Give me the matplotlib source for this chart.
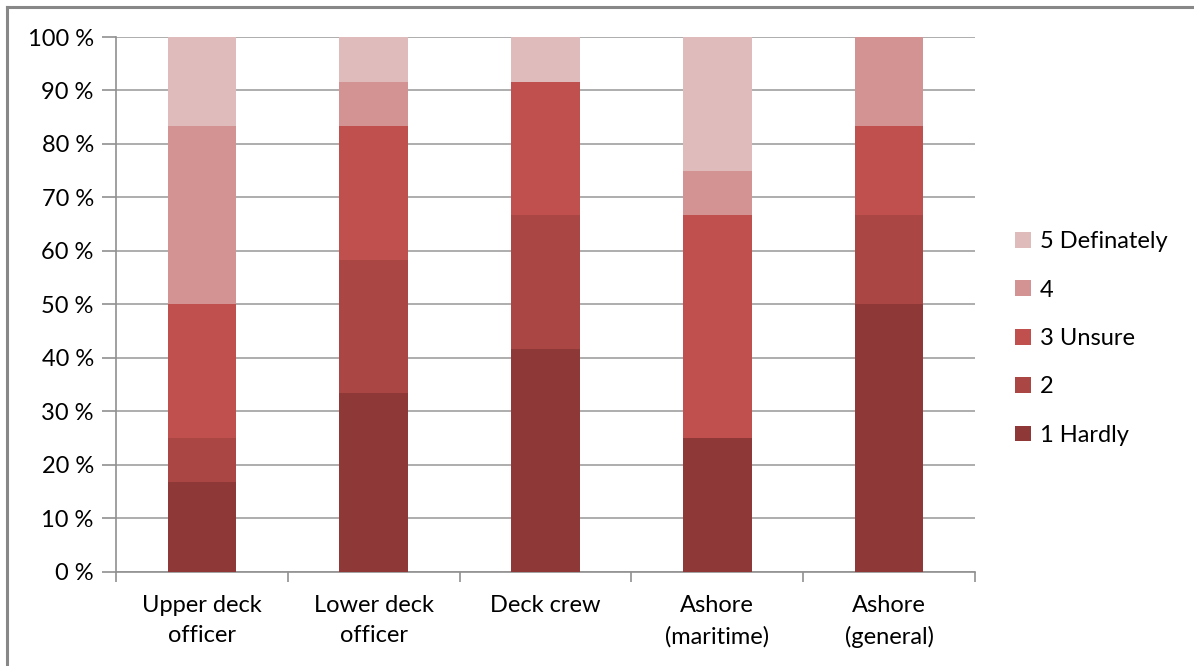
import matplotlib
matplotlib.use("Agg")
import matplotlib.pyplot as plt
from matplotlib.lines import Line2D
from matplotlib.ticker import FixedLocator

categories = ["Upper deck\nofficer", "Lower deck\nofficer", "Deck crew", "Ashore\n(maritime)", "Ashore\n(general)"]
series_names = ["1 Hardly", "2", "3 Unsure", "4", "5 Definately"]
s1 = [16.67, 33.33, 41.67, 25.0, 50.0]
s2 = [8.33, 25.0, 25.0, 0.0, 16.67]
s3 = [25.0, 25.0, 25.0, 41.67, 16.67]
s4 = [33.33, 8.33, 0.0, 8.33, 16.67]
s5 = [16.67, 8.33, 8.33, 25.0, 0.0]
series = [s1, s2, s3, s4, s5]
colors = ["#8E3937", "#AA4643", "#C0504D", "#D39392", "#E0BBBB"]
ytick_vals = list(range(0, 101, 10))
ytick_labels = [f"{v} %" for v in ytick_vals]

plt.rcParams['font.family'] = ['Lato', 'DejaVu Sans']
FS = 17

W, H = 1194, 666
fig = plt.figure(figsize=(W / 100, H / 100), dpi=100)
ax = fig.add_axes([116 / W, 1 - 571.5 / H, (975 - 116) / W, (571.5 - 37) / H])

x = list(range(len(categories)))
bottom = [0.0] * len(categories)
handles = []
for vals, name, c in zip(series, series_names, colors):
    b = ax.bar(x, vals, width=0.4, bottom=bottom, color=c, label=name, zorder=3,
               edgecolor="none")
    handles.append(b)
    bottom = [bb + v for bb, v in zip(bottom, vals)]

ax.set_xlim(-0.5, len(categories) - 0.5)
ax.set_ylim(0, 100)
ax.set_yticks(ytick_vals)
ax.set_yticklabels(ytick_labels, fontsize=FS)
ax.yaxis.grid(True, color="#A0A0A0", linewidth=1.2, zorder=0)
ax.set_xticks(x)
ax.set_xticklabels(categories, fontsize=FS, linespacing=1.55)
ax.xaxis.set_minor_locator(FixedLocator([i - 0.5 for i in range(len(categories) + 1)]))
ax.tick_params(axis="x", which="major", length=0, pad=17)
ax.tick_params(axis="x", which="minor", length=7, color="#909090", width=1.2)
ax.tick_params(axis="y", length=10, color="#909090", width=1.2, pad=6)
for s in ["top", "right"]:
    ax.spines[s].set_visible(False)
for s in ["left", "bottom"]:
    ax.spines[s].set_color("#909090")
    ax.spines[s].set_linewidth(1.2)

leg = fig.legend(handles[::-1], series_names[::-1], loc="center left",
                 bbox_to_anchor=(994 / W, 1 - 338.5 / H), frameon=False, fontsize=FS,
                 handlelength=0.65, handleheight=0.65, handletextpad=0.4,
                 labelspacing=1.16)

fig.add_artist(Line2D([6.5 / W, 1], [1 - 7 / H, 1 - 7 / H], transform=fig.transFigure,
                      color="#888888", linewidth=2.2))
fig.add_artist(Line2D([6.5 / W, 6.5 / W], [0, 1 - 7 / H], transform=fig.transFigure,
                      color="#888888", linewidth=2.2))

fig.savefig("out.png", dpi=100)
